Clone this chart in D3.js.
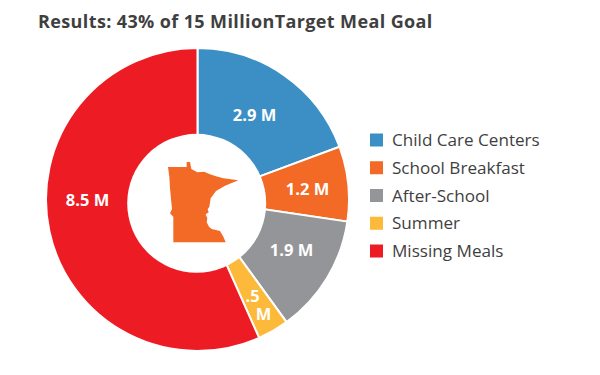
<!DOCTYPE html>
<html><head><meta charset="utf-8">
<script src="https://cdn.jsdelivr.net/npm/d3@7"></script>
<style>html,body{margin:0;padding:0;background:#fff}svg{display:block}text{font-family:"Open Sans",sans-serif}</style>
</head><body><svg id="c" width="600" height="375"></svg>
<script>
const categories=["Child Care Centers","School Breakfast","After-School","Summer","Missing Meals"];
const values=[2.9,1.2,1.9,0.5,8.5];
const sliceLabels=[["2.9 M"],["1.2 M"],["1.9 M"],[".5","M"],["8.5 M"]];
const colors=["#3b8fc4","#f26a25","#939598","#fdb93a","#ed1c24"];
const title="Results: 43% of 15 MillionTarget Meal Goal";
// State icon outline, in its own 510x510 artwork units
const iconOutline=[[174,156],[230,156],[230,141],[240,141],[244,162],[262,172],[282,170],[300,178],[318,184],[340,190],[385,196],[345,212],[318,228],[302,250],[298,275],[293,283],[296,292],[287,298],[292,310],[290,322],[297,335],[305,342],[330,348],[340,365],[347,382],[190,382],[190,305],[180,295],[186,282],[180,220],[178,185]];
// Hand placement of the labels, relative to the chart centre
const labelPlacement=[[[57,-85]],[[110,-11]],[[94,50]],[[55,96],[66,114]],[[-110,0]]];

const svg=d3.select("#c");
svg.append("text").attr("x",38).attr("y",27.5).attr("font-size",18).attr("letter-spacing",0.38).attr("font-weight",700).attr("fill","#3f3f3f").text(title);
const cx=197.5,cy=199.5,R=151.5;
const g=svg.append("g").attr("transform",`translate(${cx},${cy})`);
const pie=d3.pie().sort(null).value(d=>d)(values);
const arc=d3.arc().innerRadius(0).outerRadius(R);
g.selectAll("path").data(pie).join("path").attr("d",arc).attr("fill",(d,i)=>colors[i]).attr("stroke","#fff").attr("stroke-width",2);
svg.append("circle").attr("cx",196.7).attr("cy",203.3).attr("r",69.5).attr("fill","#fff");
g.selectAll("text").data(pie).join("text").attr("text-anchor","middle").attr("fill","#fff").attr("font-size",16.5).attr("font-weight",700)
 .each(function(d,i){const lines=sliceLabels[i];
  d3.select(this).selectAll("tspan").data(lines).join("tspan").attr("x",(l,j)=>labelPlacement[i][j][0]).attr("y",(l,j)=>labelPlacement[i][j][1]+6).text(l=>l);});
const ix=d3.scaleLinear().domain([0,510]).range([110,280]);
const iy=d3.scaleLinear().domain([0,510]).range([115,285]);
const line=d3.line().x(d=>ix(d[0])).y(d=>iy(d[1]));
svg.append("path").attr("d",line(iconOutline)+"Z").attr("fill","#f26a25");
const leg=svg.append("g");
const ly=d3.scalePoint().domain(categories).range([140,251]);
categories.forEach((c,i)=>{
 leg.append("rect").attr("x",370).attr("y",ly(c)-6.5).attr("width",13).attr("height",13).attr("fill",colors[i]);
 leg.append("text").attr("x",392).attr("y",ly(c)+6).attr("font-size",17.1).attr("fill","#3f3f3f").text(c);
});
</script></body></html>
